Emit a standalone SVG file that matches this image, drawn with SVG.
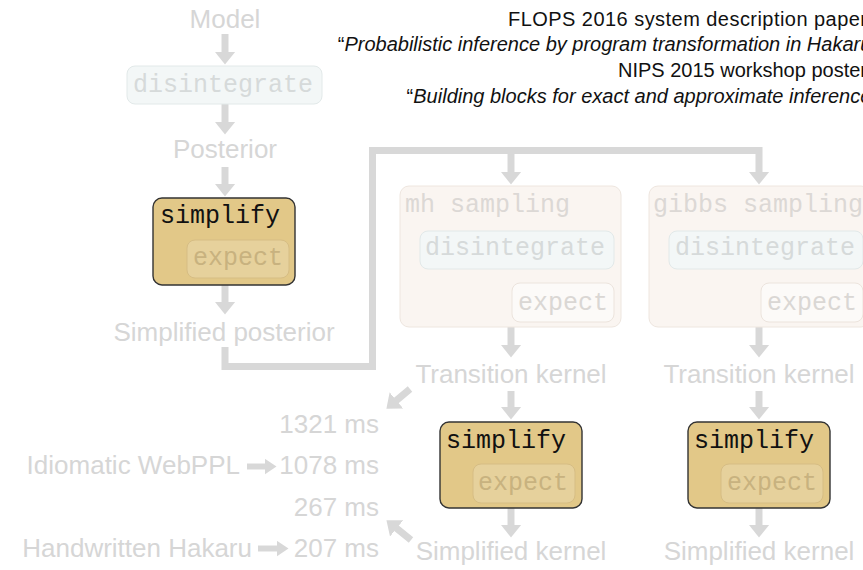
<svg xmlns="http://www.w3.org/2000/svg" width="863" height="570" viewBox="0 0 863 570">
<defs>
<style>
.lbl{font-family:"Liberation Sans",Arial,sans-serif;font-size:26px;fill:#d6d6d6}
.note{font-family:"Liberation Sans",Arial,sans-serif;font-size:20px;fill:#111}
.it{font-style:italic}
.mono{font-family:"Liberation Mono","Courier New",monospace;font-size:25px}
.simp{fill:#e2c888;stroke:#333;stroke-width:1.4}
.simpt{fill:#111}
.exs{fill:#e6d19c;stroke:#d6bd84;stroke-width:1}
.exst{fill:#c8b27f}
.dis{fill:#f3f7f7;stroke:#e2e9e9;stroke-width:1}
.dist{fill:#d6dada}
.samp{fill:#faf5f1;stroke:#eee6df;stroke-width:1}
.sampt{fill:#dcd8d5}
.exl{fill:#fcfaf8;stroke:#ece4dd;stroke-width:1}
.exlt{fill:#dad7d4}
.conn{fill:none;stroke:#d8d8d8;stroke-width:7;stroke-linejoin:miter}
.conns{fill:none;stroke:#d8d8d8;stroke-width:6}
</style>
<marker id="ah" viewBox="0 0 13 21" markerWidth="13" markerHeight="21" markerUnits="userSpaceOnUse" refX="0.5" refY="10.5" orient="auto">
<path d="M0,0 L13,10.5 L0,21 Z" fill="#d8d8d8"/>
</marker>
<marker id="ahs" viewBox="0 0 12 16" markerWidth="12" markerHeight="16" markerUnits="userSpaceOnUse" refX="0.5" refY="8" orient="auto">
<path d="M0,0 L12,8 L0,16 Z" fill="#d8d8d8"/>
</marker>
</defs>
<rect width="863" height="570" fill="#fff"/>

<g id="notes">
<text class="note" x="508" y="26" textLength="359" lengthAdjust="spacing">FLOPS 2016 system description paper</text>
<text class="note" x="878" y="51" text-anchor="end">“<tspan class="it">Probabilistic inference by program transformation in Hakaru</tspan>”</text>
<text class="note" x="867" y="77" text-anchor="end">NIPS 2015 workshop poster</text>
<text class="note" x="878" y="103" text-anchor="end">“<tspan class="it">Building blocks for exact and approximate inference</tspan>”</text>
</g>

<g id="connectors">
<path class="conn" d="M225,34 V52" marker-end="url(#ah)"/>
<path class="conn" d="M225,104 V122" marker-end="url(#ah)"/>
<path class="conn" d="M225,167 V184" marker-end="url(#ah)"/>
<path class="conn" d="M225,285 V302" marker-end="url(#ah)"/>
<path class="conn" d="M225,347 V366.5 H372.5 V150.5 H759 V172" marker-end="url(#ah)"/>
<path class="conn" d="M511,150.5 V172" marker-end="url(#ah)"/>
<path class="conn" d="M511,327 V345" marker-end="url(#ah)"/>
<path class="conn" d="M511,391 V407" marker-end="url(#ah)"/>
<path class="conn" d="M511,508 V525" marker-end="url(#ah)"/>
<path class="conn" d="M759,327 V345" marker-end="url(#ah)"/>
<path class="conn" d="M759,391 V407" marker-end="url(#ah)"/>
<path class="conn" d="M759,508 V525" marker-end="url(#ah)"/>
<path class="conn" d="M410,389 L396,400.7" marker-end="url(#ah)"/>
<path class="conn" d="M411,540 L396.2,528.1" marker-end="url(#ah)"/>
<path class="conns" d="M247,466.5 H265" marker-end="url(#ahs)"/>
<path class="conns" d="M258,548.5 H277" marker-end="url(#ahs)"/>
</g>

<g id="model"><text class="lbl" x="225" y="28" text-anchor="middle">Model</text></g>

<g id="disintegrate-top">
<rect class="dis" x="127" y="66" width="195" height="38" rx="8"/>
<text class="mono dist" x="133" y="92">disintegrate</text>
</g>

<g id="posterior"><text class="lbl" x="225" y="158" text-anchor="middle">Posterior</text></g>

<g id="simplify-top">
<rect class="simp" x="153" y="198" width="142" height="87" rx="9"/>
<text class="mono simpt" x="160" y="223">simplify</text>
<rect class="exs" x="187" y="240" width="102" height="38" rx="8"/>
<text class="mono exst" x="193" y="265">expect</text>
</g>

<g id="simplified-posterior"><text class="lbl" x="224" y="341" text-anchor="middle">Simplified posterior</text></g>

<g id="mh-sampling">
<rect class="samp" x="400" y="186" width="221" height="141" rx="9"/>
<text class="mono sampt" x="405" y="212">mh sampling</text>
<rect class="dis" x="420" y="231" width="194" height="38" rx="8"/>
<text class="mono dist" x="425" y="255">disintegrate</text>
<rect class="exl" x="512" y="283" width="102" height="39" rx="8"/>
<text class="mono exlt" x="518" y="310">expect</text>
</g>

<g id="gibbs-sampling">
<rect class="samp" x="649" y="186" width="221" height="141" rx="9"/>
<text class="mono sampt" x="653" y="212">gibbs sampling</text>
<rect class="dis" x="669" y="231" width="194" height="38" rx="8"/>
<text class="mono dist" x="675" y="255">disintegrate</text>
<rect class="exl" x="761" y="283" width="102" height="39" rx="8"/>
<text class="mono exlt" x="767" y="310">expect</text>
</g>

<g id="transition-kernel-mh"><text class="lbl" x="511" y="383" text-anchor="middle">Transition kernel</text></g>
<g id="transition-kernel-gibbs"><text class="lbl" x="759" y="383" text-anchor="middle">Transition kernel</text></g>

<g id="simplify-mh">
<rect class="simp" x="440" y="422" width="142" height="86" rx="9"/>
<text class="mono simpt" x="446" y="448">simplify</text>
<rect class="exs" x="473" y="464" width="102" height="39" rx="8"/>
<text class="mono exst" x="478" y="490">expect</text>
</g>

<g id="simplify-gibbs">
<rect class="simp" x="688" y="422" width="142" height="86" rx="9"/>
<text class="mono simpt" x="694" y="448">simplify</text>
<rect class="exs" x="721" y="464" width="102" height="39" rx="8"/>
<text class="mono exst" x="727" y="490">expect</text>
</g>

<g id="simplified-kernel-mh"><text class="lbl" x="511" y="560" text-anchor="middle">Simplified kernel</text></g>
<g id="simplified-kernel-gibbs"><text class="lbl" x="759" y="560" text-anchor="middle">Simplified kernel</text></g>

<g id="timings">
<text class="lbl" x="379" y="433" text-anchor="end">1321 ms</text>
<text class="lbl" x="240" y="474" text-anchor="end">Idiomatic WebPPL</text>
<text class="lbl" x="379" y="474" text-anchor="end">1078 ms</text>
<text class="lbl" x="379" y="516" text-anchor="end">267 ms</text>
<text class="lbl" x="252" y="557" text-anchor="end">Handwritten Hakaru</text>
<text class="lbl" x="379" y="557" text-anchor="end">207 ms</text>
</g>
</svg>
